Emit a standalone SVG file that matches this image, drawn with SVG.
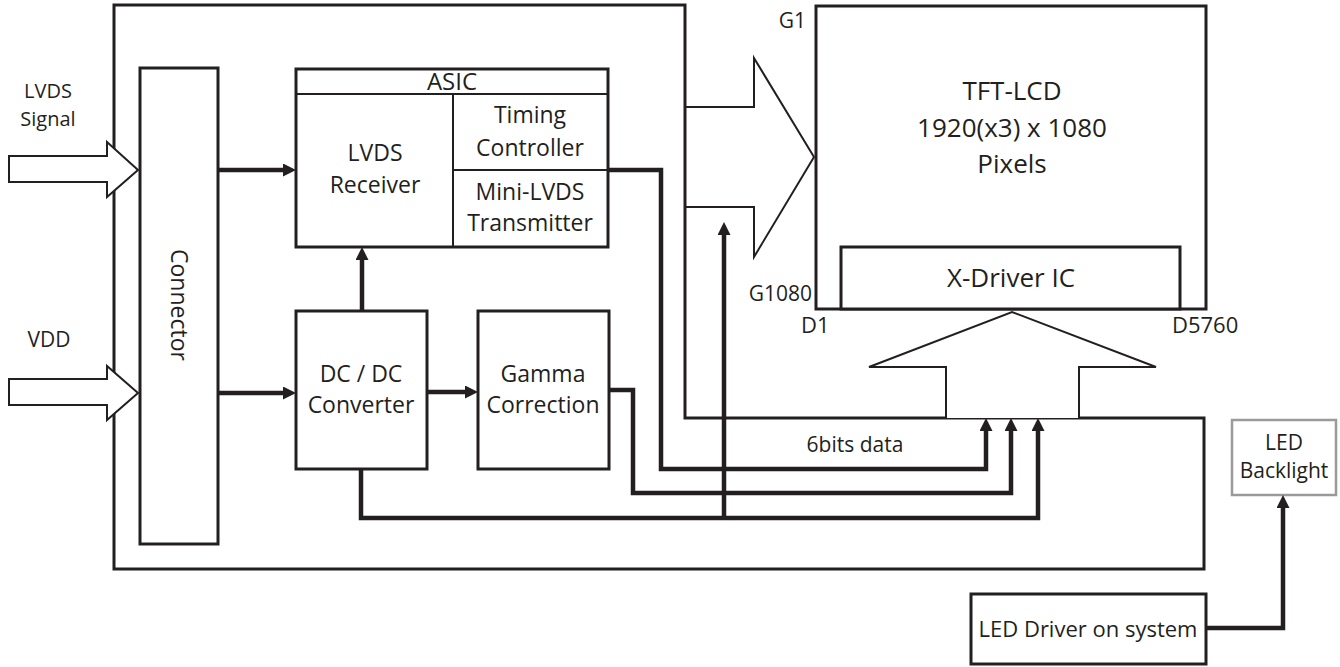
<svg xmlns="http://www.w3.org/2000/svg" width="1340" height="667" viewBox="0 0 1340 667">
<style>
.box{fill:#fff;stroke:#231f20;stroke-width:3}
.thin{fill:none;stroke:#231f20;stroke-width:2}
.hollow{fill:#fff;stroke:#231f20;stroke-width:2;stroke-linejoin:miter}
.wire{fill:none;stroke:#231f20;stroke-width:4.5;stroke-linejoin:miter}
text{font-family:"Open Sans","Noto Sans","DejaVu Sans",sans-serif;fill:#231f20;text-anchor:middle}
.t24{font-size:24px}
.t23{font-size:23px}
.t22{font-size:22px}
.t21{font-size:21px}
.t20{font-size:20px}
.t26{font-size:26px}
</style>
<defs>
<marker id="ah" markerUnits="userSpaceOnUse" markerWidth="14" markerHeight="14" viewBox="0 0 14 14" refX="6" refY="6.5" orient="auto">
<path d="M0,0 L13,6.5 L0,13 z" fill="#231f20"/>
</marker>
</defs>

<g id="panel-arrow">
<polyline class="hollow" points="685,107 754,107 754,58 814,157 754,257 754,207 685,207"/>
</g>

<g id="board">
<path class="box" style="fill:none" d="M114,5 H685 V418 H1204 V569 H114 Z"/>
</g>

<g id="lvds-input">
<polygon class="hollow" points="9,156 107,156 107,142 138,170 107,197 107,182 9,182"/>
<text class="t20" x="48" y="98">LVDS</text>
<text class="t20" x="48" y="126">Signal</text>
</g>

<g id="vdd-input">
<polygon class="hollow" points="9,379 107,379 107,366 138,393 107,420 107,405 9,405"/>
<text class="t21" x="49" y="347">VDD</text>
</g>

<g id="connector">
<rect class="box" x="140" y="68" width="78" height="476"/>
<text class="t23" transform="translate(179,305) rotate(90)" x="0" y="8">Connector</text>
</g>

<g id="asic">
<rect class="box" x="296" y="69" width="312" height="178"/>
<line class="thin" x1="296" y1="94" x2="608" y2="94"/>
<line class="thin" x1="453" y1="94" x2="453" y2="247"/>
<line class="thin" x1="453" y1="170" x2="608" y2="170"/>
<text class="t24" x="452" y="90">ASIC</text>
<text class="t23" x="375" y="161">LVDS</text>
<text class="t23" x="375" y="193">Receiver</text>
<text class="t23" x="530" y="123">Timing</text>
<text class="t23" x="530" y="156">Controller</text>
<text class="t23" x="530" y="200">Mini-LVDS</text>
<text class="t23" x="530" y="231">Transmitter</text>
</g>

<g id="dcdc">
<rect class="box" x="296" y="311" width="131" height="158"/>
<text class="t23" x="361" y="382">DC / DC</text>
<text class="t23" x="361" y="413">Converter</text>
</g>

<g id="gamma">
<rect class="box" x="478" y="311" width="131" height="158"/>
<text class="t23" x="543" y="382">Gamma</text>
<text class="t23" x="543" y="413">Correction</text>
</g>

<g id="tft-lcd">
<rect class="box" x="816" y="6" width="390" height="303"/>
<text class="t26" x="1012" y="100">TFT-LCD</text>
<text class="t26" x="1012" y="137">1920(x3) x 1080</text>
<text class="t26" x="1012" y="173">Pixels</text>
<text class="t21" x="806" y="28" style="text-anchor:end">G1</text>
<text class="t21" x="812" y="301" style="text-anchor:end">G1080</text>
<text class="t22" x="801" y="333" style="text-anchor:start">D1</text>
<text class="t22" x="1172" y="333" style="text-anchor:start">D5760</text>
</g>

<g id="x-driver">
<rect class="box" x="841" y="247" width="339" height="62"/>
<text class="t26" x="1011" y="287">X-Driver IC</text>
</g>

<g id="data-arrow">
<polyline class="hollow" points="946,418 946,367 869,367 1012,312 1156,367 1079,367 1079,418"/>
</g>

<g id="led-backlight">
<rect x="1232" y="420" width="104" height="75" fill="#fff" stroke="#9a9a9a" stroke-width="2.5"/>
<text class="t21" x="1284" y="450">LED</text>
<text class="t21" x="1284" y="478">Backlight</text>
</g>

<g id="led-driver">
<rect class="box" x="971" y="594" width="235" height="70"/>
<text class="t22" x="1088" y="637">LED Driver on system</text>
</g>

<g id="connectors">
<path class="wire" d="M218,170 H289" marker-end="url(#ah)"/>
<path class="wire" d="M218,393 H289" marker-end="url(#ah)"/>
<path class="wire" d="M362,311 V254" marker-end="url(#ah)"/>
<path class="wire" d="M427,392 H471" marker-end="url(#ah)"/>
<path class="wire" d="M608,170 H661 V469 H986 V425" marker-end="url(#ah)"/>
<path class="wire" d="M609,390 H633 V493 H1011 V425" marker-end="url(#ah)"/>
<path class="wire" d="M361,469 V518 H1038 V425" marker-end="url(#ah)"/>
<path class="wire" d="M724,518 V229" marker-end="url(#ah)"/>
<path class="wire" d="M1206,628 H1283 V502" marker-end="url(#ah)"/>
<text class="t21" x="855" y="452">6bits data</text>
</g>
</svg>
